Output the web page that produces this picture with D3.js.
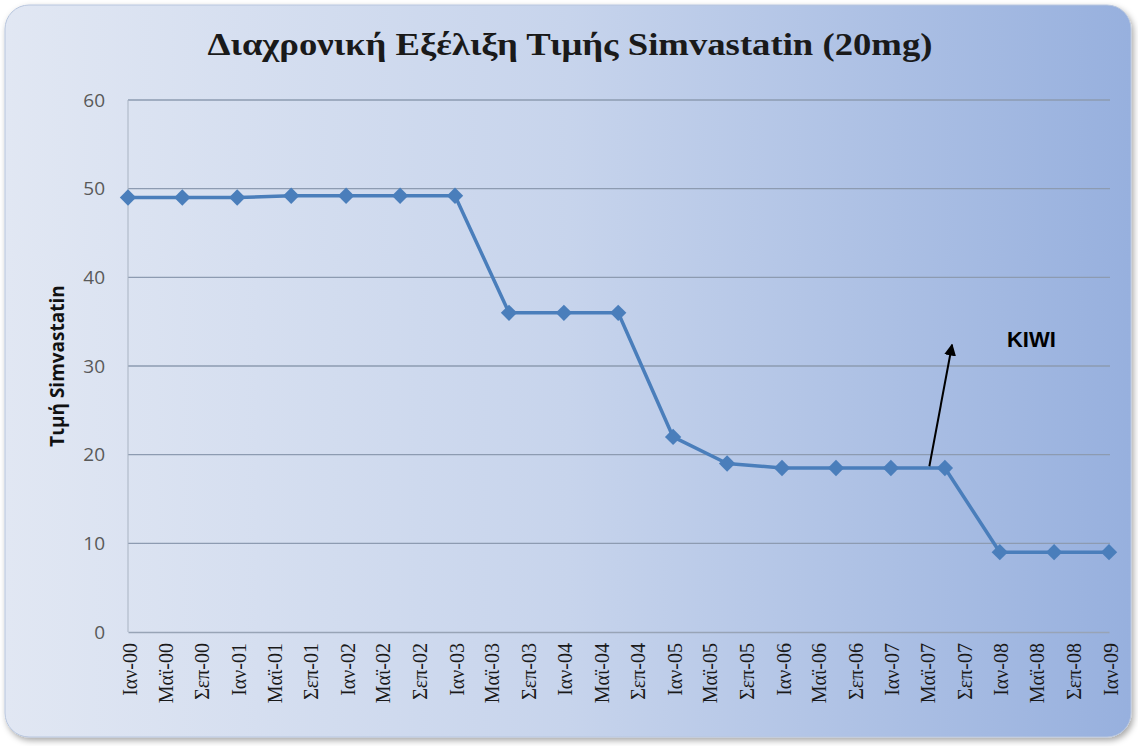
<!doctype html>
<html>
<head>
<meta charset="utf-8">
<script src="https://d3js.org/d3.v7.min.js"></script>
<style>
  body { margin: 0; background: #fff; }
</style>
</head>
<body>
<div id="chart"></div>
<script>
var w = 1138, h = 746;
var margin = {top: 100, right: 28, bottom: 114, left: 128};

// half-yearly prices
var dates = ["2000-01", "2000-07", "2001-01", "2001-07", "2002-01", "2002-07", "2003-01",
             "2003-07", "2004-01", "2004-07", "2005-01", "2005-07", "2006-01", "2006-07",
             "2007-01", "2007-07", "2008-01", "2008-07", "2009-01"];
var prices = [49, 49, 49, 49.2, 49.2, 49.2, 49.2, 36, 36, 36, 22, 19, 18.5, 18.5, 18.5, 18.5, 9, 9, 9];

// axis labels every 4 months
var monthNames = ["Ιαν", "Μαϊ", "Σεπ"];
var years = ["00", "01", "02", "03", "04", "05", "06", "07", "08", "09"];
var yTicks = [0, 10, 20, 30, 40, 50, 60];

var titleText = "Διαχρονική Εξέλιξη Τιμής Simvastatin (20mg)";
var yTitle = "Τιμή Simvastatin";
var note = {label: "KIWI", from: ["2007-05-10", 18.7], to: ["2007-07-25", 32.4], text: ["2008-01-25", 32.4]};

var parse = d3.timeParse("%Y-%m");
var parseDay = d3.timeParse("%Y-%m-%d");
var data = dates.map(function (d, i) { return {date: parse(d), value: prices[i]}; });

var tickLabels = [];
years.forEach(function (y, i) {
  monthNames.forEach(function (m, j) {
    if (i < years.length - 1 || j == 0) tickLabels.push(m + "-" + y);
  });
});

var svg = d3.select("#chart").append("svg").attr("width", w).attr("height", h);
var defs = svg.append("defs");

var bg = defs.append("linearGradient").attr("id", "bg").attr("x1", "0").attr("x2", "1").attr("y1", "0").attr("y2", "0");
bg.append("stop").attr("offset", "0").attr("stop-color", "#e1e7f3");
bg.append("stop").attr("offset", "0.5").attr("stop-color", "#c7d4ec");
bg.append("stop").attr("offset", "1").attr("stop-color", "#97b0de");

var sh = defs.append("filter").attr("id", "shadow").attr("x", "-5%").attr("y", "-5%").attr("width", "110%").attr("height", "110%");
sh.append("feDropShadow").attr("dx", 2).attr("dy", 3).attr("stdDeviation", 3).attr("flood-color", "#000").attr("flood-opacity", 0.35);

defs.append("marker").attr("id", "arrow").attr("viewBox", "0 0 10 10").attr("refX", 9).attr("refY", 5)
  .attr("markerWidth", 6).attr("markerHeight", 6).attr("orient", "auto")
  .append("path").attr("d", "M0,0L10,5L0,10Z").attr("fill", "#000");

svg.append("rect").attr("x", 5).attr("y", 5).attr("width", w - 12).attr("height", h - 14)
  .attr("rx", 24).attr("fill", "url(#bg)").attr("stroke", "#b8c6de").attr("filter", "url(#shadow)");

var x = d3.scaleTime()
  .domain([parse("2000-01"), parse("2009-01")])
  .range([margin.left, w - margin.right - 1]);
var y = d3.scaleLinear().domain([0, 60]).range([h - margin.bottom, margin.top]);

// grid
svg.append("g").selectAll("line").data(yTicks.slice(1)).join("line")
  .attr("x1", margin.left).attr("x2", w - margin.right)
  .attr("y1", function (d) { return y(d); }).attr("y2", function (d) { return y(d); })
  .attr("stroke", "#8d9bb1").attr("stroke-width", 1.3);

svg.append("line").attr("x1", margin.left).attr("x2", margin.left)
  .attr("y1", y(60)).attr("y2", y(0)).attr("stroke", "#a9b3c2");

var xAxis = d3.axisBottom(x)
  .tickValues(d3.timeMonth.every(4).range(parse("2000-01"), parse("2009-02")))
  .tickFormat(function (d, i) { return tickLabels[i]; })
  .tickSize(0);
var gx = svg.append("g").attr("transform", "translate(0," + y(0) + ")").call(xAxis);
gx.select(".domain").attr("stroke", "#98a4b6").attr("stroke-width", 1.3);
gx.selectAll("text")
  .attr("transform", "rotate(-90)")
  .attr("text-anchor", "end")
  .attr("x", -11).attr("y", 1).attr("dy", "0.35em")
  .style("font-family", "'Liberation Serif', 'DejaVu Serif', serif")
  .style("font-size", "20px").attr("fill", "#1a1a1a");

var yAxis = d3.axisLeft(y).tickValues(yTicks).tickSize(0).tickPadding(23);
var gy = svg.append("g").attr("transform", "translate(" + margin.left + ",0)").call(yAxis);
gy.select(".domain").remove();
gy.selectAll("text").style("font-family", "'Open Sans', 'Noto Sans', sans-serif")
  .style("font-size", "19px").attr("fill", "#595959");

// line and markers
var line = d3.line().x(function (d) { return x(d.date); }).y(function (d) { return y(d.value); });
svg.append("path").datum(data).attr("d", line)
  .attr("fill", "none").attr("stroke", "#4a7ebb").attr("stroke-width", 3.5).attr("stroke-linejoin", "round");
svg.append("g").selectAll("path").data(data).join("path")
  .attr("d", d3.symbol().type(d3.symbolDiamond2).size(170))
  .attr("transform", function (d) { return "translate(" + x(d.date) + "," + y(d.value) + ")"; })
  .attr("fill", "#4a7ebb");

// titles
svg.append("text").attr("x", 570).attr("y", 55).attr("text-anchor", "middle")
  .attr("textLength", 725).attr("lengthAdjust", "spacingAndGlyphs")
  .style("font-family", "'Liberation Serif', 'DejaVu Serif', serif")
  .style("font-weight", "bold").style("font-size", "31px").attr("fill", "#1a1a1a")
  .text(titleText);

svg.append("text").attr("transform", "translate(64," + y(30) + ")rotate(-90)").attr("text-anchor", "middle")
  .style("font-family", "'Open Sans', 'Noto Sans', sans-serif")
  .style("font-weight", "bold").style("font-size", "19px").attr("fill", "#111")
  .text(yTitle);

// annotation
svg.append("line")
  .attr("x1", x(parseDay(note.from[0]))).attr("y1", y(note.from[1]))
  .attr("x2", x(parseDay(note.to[0]))).attr("y2", y(note.to[1]))
  .attr("stroke", "#000").attr("stroke-width", 2).attr("marker-end", "url(#arrow)");
svg.append("text").attr("x", x(parseDay(note.text[0]))).attr("y", y(note.text[1]) + 2)
  .style("font-family", "'Liberation Sans', Arial, sans-serif")
  .style("font-weight", "bold").style("font-size", "22px").attr("fill", "#000")
  .text(note.label);
</script>
</body>
</html>
